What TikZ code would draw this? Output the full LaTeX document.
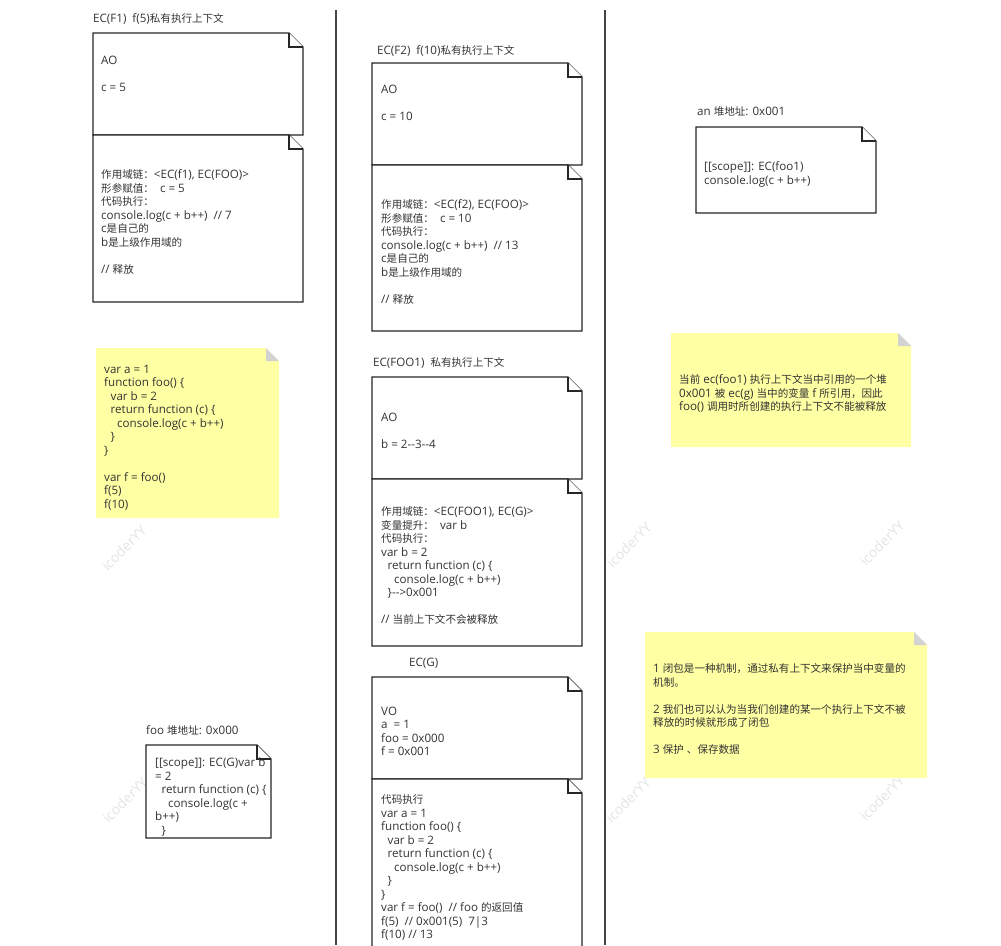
\documentclass[tikz,border=0pt]{standalone}
\usepackage{fontspec}
\setmainfont{Open Sans}
\newfontfamily\cjkfont{Noto Sans CJK SC}[Scale=0.91]
\usetikzlibrary{calc}

% switch to the CJK family for Chinese characters
\XeTeXinterchartokenstate=1
\newXeTeXintercharclass\CJKclass
\count255="3000 \loop\XeTeXcharclass\count255=\CJKclass\advance\count255 by 1 \ifnum\count255<"3040 \repeat
\count255="4E00 \loop\XeTeXcharclass\count255=\CJKclass\advance\count255 by 1 \ifnum\count255<"A000 \repeat
\count255="FF00 \loop\XeTeXcharclass\count255=\CJKclass\advance\count255 by 1 \ifnum\count255<"FFF0 \repeat
\XeTeXinterchartoks 0 \CJKclass = {\cjkfont}
\XeTeXinterchartoks 4095 \CJKclass = {\cjkfont}
\XeTeXinterchartoks \CJKclass 0 = {\rmfamily}
\XeTeXinterchartoks \CJKclass 4095 = {\rmfamily}

\definecolor{txtgray}{HTML}{333333}
\definecolor{linegray}{HTML}{262626}
\definecolor{rulegray}{HTML}{444444}
\definecolor{stickyyellow}{HTML}{FFFFA3}
\definecolor{foldgray}{HTML}{D3D3D3}
\definecolor{wmgray}{HTML}{E4E4E4}

\newcommand{\indA}{\hspace*{6.5pt}}
\newcommand{\indB}{\hspace*{13pt}}
% white note with folded corner: x1,y1,x2,y2
\newcommand{\notebox}[4]{%
  \draw[notebox] (#1,#2) -- (#3-14,#2) -- (#3,#2+14) -- (#3,#4) -- (#1,#4) -- cycle;
  \draw[notebox] (#3-14,#2) -- (#3-14,#2+14) -- (#3,#2+14);}
% yellow sticky note: x1,y1,x2,y2
\newcommand{\sticky}[4]{%
  \fill[stickyyellow] (#1,#2) -- (#3-13,#2) -- (#3,#2+13) -- (#3,#4) -- (#1,#4) -- cycle;
  \fill[foldgray] (#3-13,#2) -- (#3-13,#2+13) -- (#3,#2+13) -- cycle;}

\begin{document}
\begin{tikzpicture}[x=1pt, y=-1pt,
    txt/.style={anchor=north west, inner sep=0pt, align=left, text=txtgray,
                font=\fontsize{11.6}{13.5}\selectfont, execute at begin node=\strut},
    lbl/.style={anchor=base west, inner sep=0pt, text=txtgray, font=\fontsize{11.6}{13.5}\selectfont},
    notebox/.style={draw=linegray, line width=1.4pt, fill=white, line join=miter},
    colrule/.style={draw=rulegray, line width=1.6pt},
    wm/.style={text=wmgray, rotate=45, font=\fontsize{14}{16}\selectfont}]
  \useasboundingbox (0,0) rectangle (1001,945);

  % watermark
  \foreach \wx/\wy in {124/548, 629/545, 882/543, 125/800, 628/800, 882/798}
    \node[wm] at (\wx,\wy) {icoderYY};

  % column rules
  \draw[colrule] (336,10) -- (336,945);
  \draw[colrule] (605,10) -- (605,945);

  % left column
  \node[lbl] (f1title) at (93,22) {EC(F1)~ f(5)私有执行上下文};
  \notebox{93}{33}{303}{135}
  \notebox{93}{135}{303}{302}
  \node[txt] (f1ao) at (101,55.8) {AO\\~\\c = 5};
  \node[txt] (f1run) at (101,169.8) {作用域链：<EC(f1), EC(FOO)>\\形参赋值：~ c = 5\\代码执行：\\console.log(c + b++)~ // 7\\c是自己的\\b是上级作用域的\\~\\// 释放};

  \sticky{96}{348}{279}{518}
  \node[txt] (code) at (104,364.8) {var a = 1\\function foo() \{\\\indA var b = 2\\\indA return function (c) \{\\\indB console.log(c + b++)\\\indA \}\\\}\\~\\var f = foo()\\f(5)\\f(10)};

  \node[lbl] (heap0title) at (146,734) {foo 堆地址: 0x000};
  \notebox{146}{745}{271}{838}
  \node[txt] (heap0) at (155,757.8) {[[scope]]: EC(G)var b\\= 2\\\indA return function (c) \{\\\indB console.log(c +\\b++)\\\indA \}};

  % middle column
  \node[lbl] (f2title) at (377,54) {EC(F2)~ f(10)私有执行上下文};
  \notebox{372}{63}{582}{165}
  \notebox{372}{165}{582}{331}
  \node[txt] (f2ao) at (381,84.8) {AO\\~\\c = 10};
  \node[txt] (f2run) at (381,199.8) {作用域链：<EC(f2), EC(FOO)>\\形参赋值：~ c = 10\\代码执行：\\console.log(c + b++)~ // 13\\c是自己的\\b是上级作用域的\\~\\// 释放};

  \node[lbl] (foo1title) at (373,366) {EC(FOO1)~ 私有执行上下文};
  \notebox{372}{377}{582}{479}
  \notebox{372}{479}{582}{646}
  \node[txt] (foo1ao) at (381,412.8) {AO\\~\\b = 2-{}-3-{}-4};
  \node[txt] (foo1run) at (381,506.8) {作用域链：<EC(FOO1), EC(G)>\\变量提升：~ var b\\代码执行：\\var b = 2\\\indA return function (c) \{\\\indB console.log(c + b++)\\\indA \}-{}->0x001\\~\\// 当前上下文不会被释放};

  \node[lbl] (gtitle) at (409,666) {EC(G)};
  \notebox{372}{677}{582}{779}
  \notebox{372}{779}{582}{965}
  \node[txt] (gvo) at (381,706.8) {VO\\a~ = 1\\foo = 0x000\\f = 0x001};
  \node[txt] (grun) at (381,794.8) {代码执行\\var a = 1\\function foo() \{\\\indA var b = 2\\\indA return function (c) \{\\\indB console.log(c + b++)\\\indA \}\\\}\\var f = foo()~ // foo 的返回值\\f(5)~ // 0x001(5)~ 7|3\\f(10) // 13};

  % right column
  \node[lbl] (heap1title) at (697,115) {an 堆地址: 0x001};
  \notebox{696}{127}{876}{213}
  \node[txt] (heap1) at (704,161.8) {[[scope]]: EC(foo1)\\console.log(c + b++)};

  \sticky{671}{333}{911}{447}
  \node[txt] (why) at (679,374.8) {当前 ec(foo1) 执行上下文当中引用的一个堆\\0x001 被 ec(g) 当中的变量 f 所引用，因此\\foo() 调用时所创建的执行上下文不能被释放};

  \sticky{645}{632}{927}{778}
  \node[txt] (closure) at (653,663.8) {1 闭包是一种机制，通过私有上下文来保护当中变量的\\机制。\\~\\2 我们也可以认为当我们创建的某一个执行上下文不被\\释放的时候就形成了闭包\\~\\3 保护 、保存数据};
\end{tikzpicture}
\end{document}
